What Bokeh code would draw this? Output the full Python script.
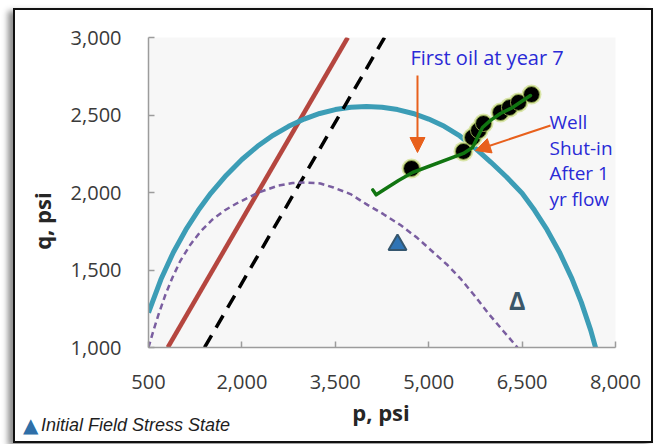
from bokeh.plotting import figure
from bokeh.layouts import column
from bokeh.models import Range1d, FixedTicker, NumeralTickFormatter, Label, Arrow, NormalHead, Div
from bokeh.core.properties import value
from bokeh.embed import file_html
from bokeh.resources import INLINE

# ---------------- data ----------------
x_ticks = [500, 2000, 3500, 5000, 6500, 8000]
y_ticks = [1000, 1500, 2000, 2500, 3000]

# current yield envelope (solid teal)
yield_p = [500, 700, 900, 1100, 1300, 1500, 1750, 2000, 2250, 2500, 2750, 3000, 3250, 3500, 3750, 4000,
           4250, 4500, 4750, 5000, 5250, 5500, 5750, 6000, 6250, 6500, 6700, 6900, 7100, 7300, 7450, 7600, 7700]
yield_q = [1225, 1440, 1615, 1760, 1885, 1995, 2112, 2213, 2298, 2369, 2427, 2474, 2510, 2535, 2550, 2555,
           2550, 2535, 2510, 2474, 2427, 2365, 2285, 2195, 2100, 1995, 1885, 1760, 1615, 1444, 1293, 1114, 971]

# initial yield envelope (dashed purple)
init_env_p = [500, 580, 661, 773, 885, 1014, 1175, 1335, 1528, 1720, 1913, 2266, 2588, 2813, 3021, 3262,
              3471, 3744, 4017, 4274, 4547, 4820, 5077, 5302, 5510, 5735, 5960, 6201, 6426]
init_env_q = [1000, 1110, 1213, 1342, 1452, 1561, 1665, 1748, 1826, 1884, 1929, 2000, 2045, 2061, 2065, 2058,
              2032, 1990, 1920, 1860, 1790, 1706, 1613, 1532, 1445, 1335, 1219, 1105, 1000]

# failure lines
red_p = [810, 3700]
red_q = [1000, 3000]
black_p = [1400, 4290]
black_q = [1000, 3000]

# stress path (green) and yearly states (black dots)
path_p = [4102, 4156, 4306, 4515, 4740, 5558, 5703, 5783, 5864, 5992, 6153, 6346, 6634]
path_q = [2017, 1985, 2024, 2077, 2129, 2252, 2290, 2355, 2419, 2465, 2510, 2548, 2626]
state_p = [4724, 5558, 5703, 5800, 5880, 6153, 6297, 6442, 6651]
state_q = [2155, 2265, 2355, 2400, 2445, 2516, 2548, 2581, 2632]

# initial field stress state and final state
init_p = [4499]
init_q = [1662]
final_p = [6421]
final_q = [1306]
final_txt = ["Δ"]

x_title = "p, psi"
y_title = "q, psi"
note_text = "Initial Field Stress State"

# ---------------- main figure ----------------
W = 636
p = figure(width=W, height=390, x_range=Range1d(500, 8000), y_range=Range1d(1000, 3000),
           output_backend="svg", toolbar_location=None,
           min_border_left=133, min_border_right=36, min_border_top=27, min_border_bottom=53)
p.background_fill_color = "#f7f7f7"
p.border_fill_color = "white"
p.outline_line_color = None
p.xgrid.visible = False
p.ygrid.visible = False

p.xaxis.ticker = FixedTicker(ticks=x_ticks)
p.yaxis.ticker = FixedTicker(ticks=y_ticks)
for ax in (p.xaxis, p.yaxis):
    ax.formatter = NumeralTickFormatter(format="0,0")
    ax.axis_line_color = "#9c9c9c"
    ax.axis_line_width = 1.5
    ax.major_tick_line_color = "#9c9c9c"
    ax.major_tick_line_width = 1.5
    ax.major_tick_in = 6
    ax.major_tick_out = 0
    ax.minor_tick_line_color = None
    ax.major_label_text_font = "Open Sans"
    ax.major_label_text_font_size = "20px"
    ax.major_label_text_color = "#3a3a3a"
p.yaxis.axis_label = y_title + "\u00a0" * 10
p.yaxis.axis_label_text_font = "Open Sans"
p.yaxis.axis_label_text_font_style = "bold"
p.yaxis.axis_label_text_font_size = "22px"
p.yaxis.axis_label_text_color = "#262626"
p.xaxis.major_label_standoff = 27
p.yaxis.major_label_standoff = 27
p.yaxis.axis_label_standoff = 11

# ---------------- glyphs ----------------
p.line(red_p, red_q, line_color="#b5463f", line_width=4.5)
p.line(yield_p, yield_q, line_color="#3c9db6", line_width=5, line_join="round")
p.line(black_p, black_q, line_color="black", line_width=3.5, line_dash="14 9")
p.line(init_env_p, init_env_q, line_color="#7a5ea0", line_width=2.5, line_dash="6 4")

p.scatter(state_p, state_q, size=20, fill_color="#d3e29a", fill_alpha=0.85, line_color=None)
p.scatter(state_p, state_q, size=16, fill_color="black", line_color="#8ea44c", line_width=1)
p.line(path_p, path_q, line_color="#117511", line_width=3.5, line_join="round", line_cap="round")

p.scatter(init_p, init_q, marker="triangle", size=18, fill_color="#2f74b5", line_color="#35566e", line_width=2)
p.text(final_p, final_q, text=final_txt, text_font=value("Open Sans"), text_font_style="bold",
       text_font_size="25px", text_color="#3b5769", text_align="center", text_baseline="middle")

# ---------------- annotations ----------------
orange = "#e8601c"
p.add_layout(Arrow(x_start=4820, y_start=2755, x_end=4820, y_end=2258, line_color=orange, line_width=2,
                   end=NormalHead(size=15, fill_color=orange, line_color=orange)))
p.add_layout(Arrow(x_start=6956, y_start=2432, x_end=5751, y_end=2271, line_color=orange, line_width=2,
                   end=NormalHead(size=15, fill_color=orange, line_color=orange)))

blue_txt = "#2a2ad6"
p.add_layout(Label(x=4707, y=2871, text="First oil at year 7", text_font="Open Sans", text_font_size="20px",
                   text_color=blue_txt, text_baseline="middle"))
for t, yy in [("Well", 2452), ("Shut-in", 2284), ("After 1", 2123), ("yr flow", 1961)]:
    p.add_layout(Label(x=6940, y=yy, text=t, text_font="Open Sans", text_font_size="19px",
                       text_color=blue_txt, text_baseline="middle"))

# ---------------- bottom strip: x-axis title and legend note ----------------
strip_html = (
    '<div style="position:relative;width:636px;height:41px;background:white;margin:0;padding:0;">'
    '<span style="position:absolute;left:366px;top:1px;transform:translateX(-50%);white-space:nowrap;'
    "font-family:'Open Sans';font-weight:bold;font-size:22px;line-height:22px;color:#262626;\">"
    + x_title + '</span>'
    '<span style="position:absolute;left:8px;top:15px;white-space:nowrap;'
    "font-family:'DejaVu Sans';font-size:20px;line-height:20px;color:#2f6fa8;\">&#9650;</span>"
    '<span style="position:absolute;left:26px;top:16px;white-space:nowrap;'
    "font-family:'Liberation Sans';font-style:italic;font-size:18px;line-height:18px;color:#1e1e1e;\">"
    + note_text + '</span>'
    '</div>'
)
strip = Div(text=strip_html, width=W, height=41, margin=(0, 0, 0, 0))

layout = column(p, strip, spacing=0, margin=(8, 0, 0, 13))
layout.styles = {"border": "2px solid #111111", "box-shadow": "-5px 3px 6px rgba(0,0,0,0.45)",
                 "background-color": "white"}

open("out.html", "w").write(file_html(layout, INLINE))
